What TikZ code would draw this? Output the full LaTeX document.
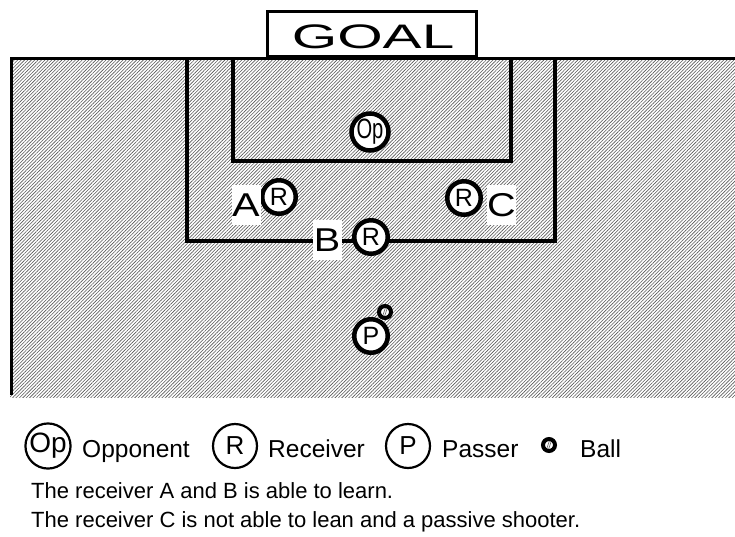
\documentclass[tikz,border=0pt]{standalone}
\usepackage{fontspec}
\usepackage{graphicx}
\setmainfont{Liberation Sans}
\usetikzlibrary{patterns.meta}
\begin{document}
\begin{tikzpicture}[x=1pt,y=-1pt,
  player/.style={circle,draw,line width=4.5pt,fill=white,minimum size=33.5pt,inner sep=0pt,
    font=\fontsize{25}{25}\selectfont},
  tag/.style={fill=white,inner sep=0pt,minimum width=29pt,minimum height=40pt,
    font=\fontsize{33}{33}\selectfont},
  key/.style={circle,draw,line width=2.2pt,minimum size=44pt,inner sep=0pt,
    font=\fontsize{26}{26}\selectfont},
  keytext/.style={anchor=base west,inner sep=0pt,font=\fontsize{24.5}{24.5}\selectfont},
  note/.style={anchor=base west,inner sep=0pt,font=\fontsize{22}{22}\selectfont},
  ball/.style={circle,draw,line width=4pt,fill=white,minimum size=12pt,inner sep=0pt,
    path picture={\draw[black!55,line width=0.7pt]
      ([xshift=-1pt]path picture bounding box.south) -- ([xshift=3pt]path picture bounding box.north)
      ([xshift=-3pt]path picture bounding box.south) -- ([xshift=1pt]path picture bounding box.north);}},
  fieldline/.style={line width=4.2pt}]

\useasboundingbox (0,0) rectangle (735,536);

% hatched turf
\fill[white] (10,58) rectangle (735,397);
\pattern[pattern={Lines[angle=45,distance=2.4pt,line width=0.6pt]},pattern color=black!65]
  (10,58) rectangle (735,397);

% touch line and goal line
\draw[line width=3pt] (11.5,395) -- (11.5,58.5) -- (735,58.5);

% penalty area and goal area
\draw[fieldline] (187,58) -- (187,241) -- (555,241) -- (555,58);
\draw[fieldline] (233,58) -- (233,161) -- (511,161) -- (511,58);

% goal
\draw[line width=3pt,fill=white] (267,56.5) rectangle (476,11.5);
\node[font=\fontsize{34}{34}\selectfont] (goal) at (373,37) {\scalebox{1.72}[1]{GOAL}};

% players on the pitch
\node[player] (op) at (370,132) {\scalebox{0.72}[1]{\fontsize{28}{28}\selectfont Op}};
\node[player] (ra) at (279,197) {R};
\node[player] (rc) at (464,198) {R};
\node[player] (rb) at (371,237) {R};
\node[player] (pa) at (371,336) {P};
\node[ball] (bl) at (385,312) {};

% receiver labels
\node[tag] (la) at (246,205) {\scalebox{1.25}[1]{A}};
\node[tag] (lc) at (501.5,205) {\scalebox{1.2}[1]{C}};
\node[tag] (lb) at (327,240) {\scalebox{1.2}[1]{B}};

% legend
\node[key] (kop) at (48,446) {\fontsize{28}{28}\selectfont Op};
\node[keytext] (top) at (82,457) {Opponent};
\node[key] (kr) at (235,446) {R};
\node[keytext] (tr) at (268,457) {Receiver};
\node[key] (kp) at (408,446) {P};
\node[keytext] (tp) at (442,457) {Passer};
\node[ball] (kb) at (549,445) {};
\node[keytext] (tb) at (580,457) {Ball};

% notes
\node[note] (n1) at (31,498) {The receiver A and B is able to learn.};
\node[note] (n2) at (31,527) {The receiver C is not able to lean and a passive shooter.};
\end{tikzpicture}
\end{document}
